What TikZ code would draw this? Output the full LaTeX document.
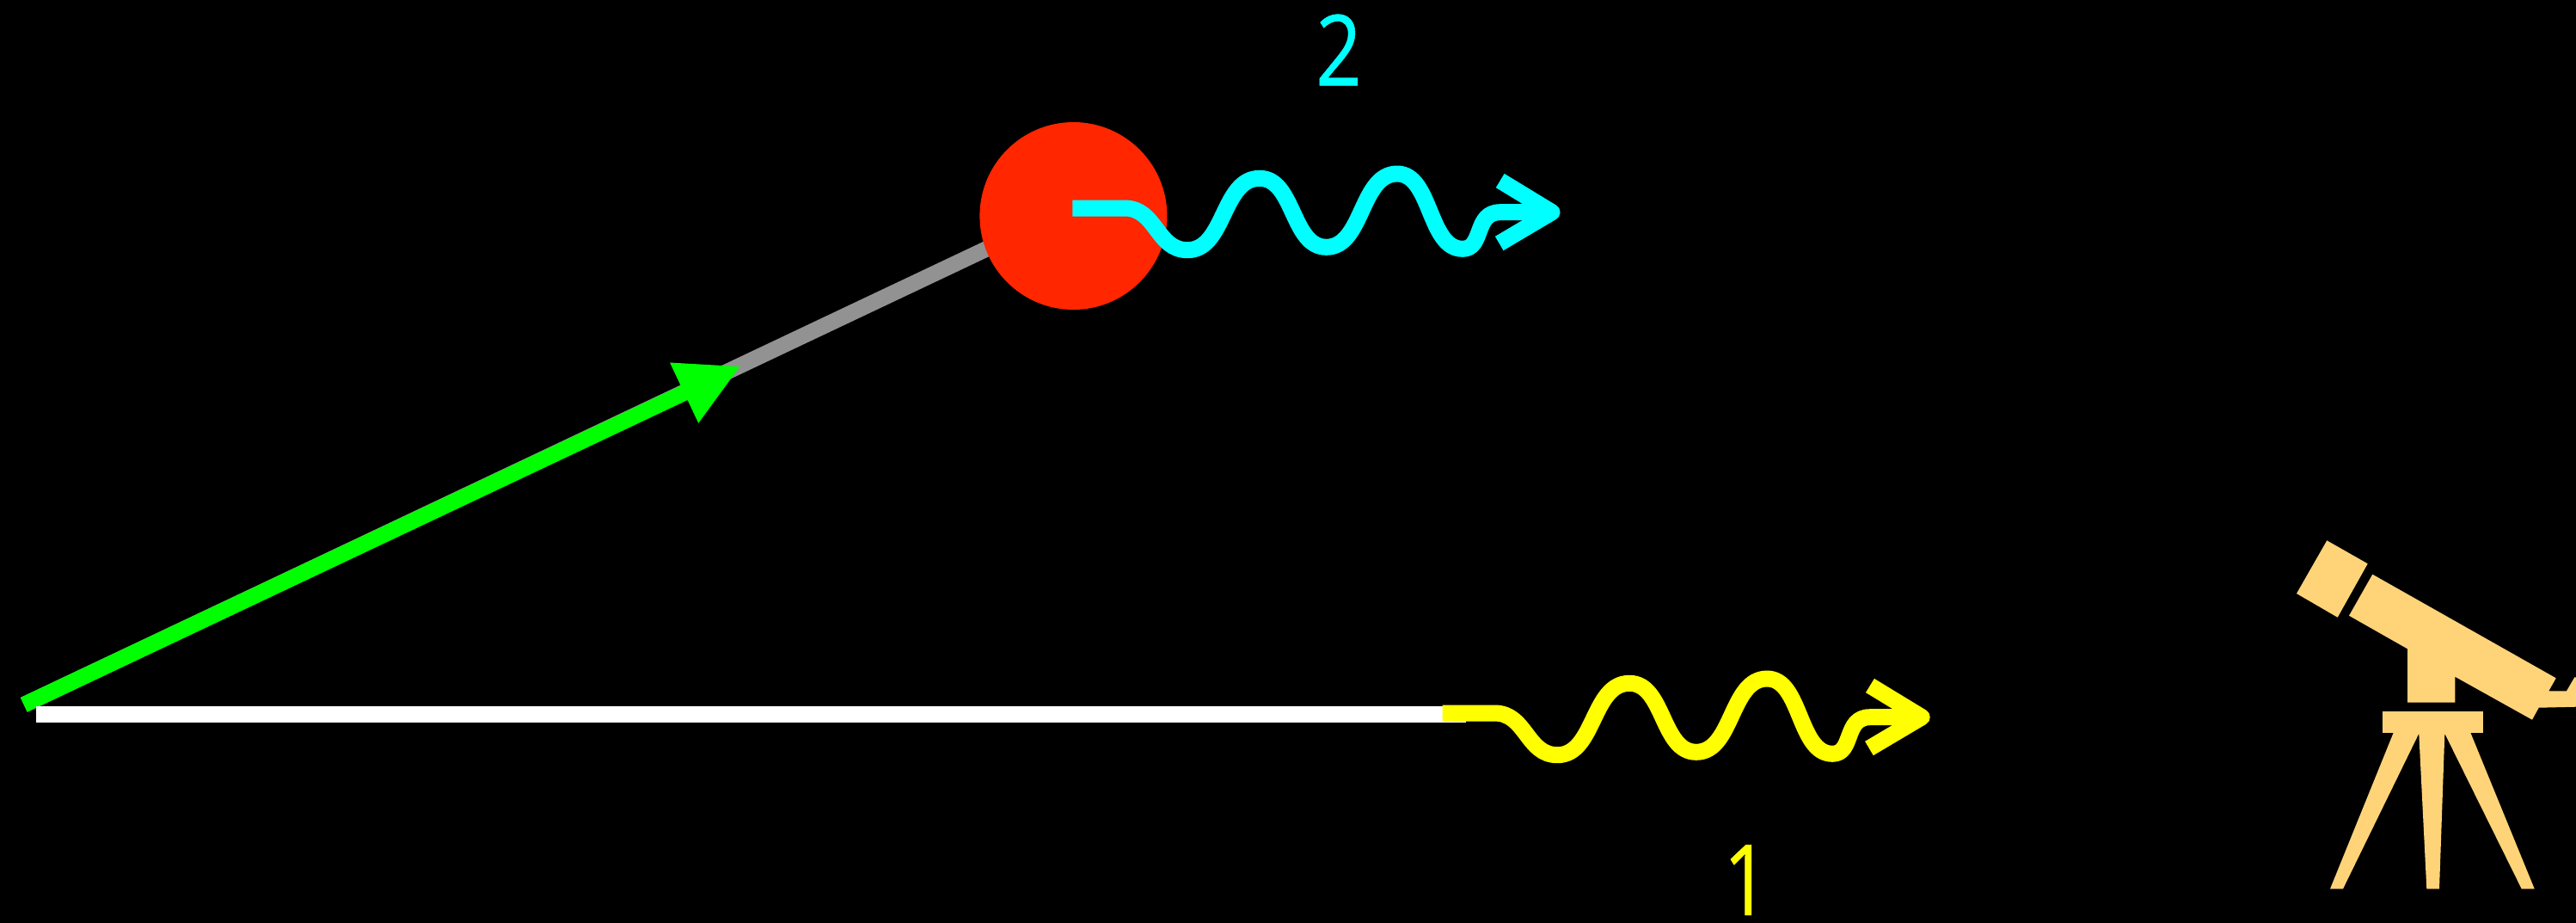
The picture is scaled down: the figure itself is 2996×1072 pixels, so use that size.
\documentclass[tikz,border=0pt]{standalone}
\usepackage{fontspec}
\newfontfamily\numfont[FakeBold=0.5]{Open Sans}
\usetikzlibrary{arrows.meta}
\definecolor{photred}{RGB}{255,38,0}
\definecolor{scopetan}{RGB}{255,212,121}
\definecolor{rayGray}{RGB}{146,146,146}
\definecolor{rayGreen}{RGB}{0,255,0}
\definecolor{photcyan}{RGB}{0,255,255}
\definecolor{photyellow}{RGB}{255,255,0}
\tikzset{
  ray/.style     = {line width=1.85mm},
  wave/.style    = {line width=1.9mm, line join=round},
  scopepart/.style = {fill=scopetan, draw=none},
  atom/.style    = {circle, fill=photred, minimum size=21.8mm, inner sep=0pt},
  numlabel/.style = {inner sep=0pt, xscale=0.82, font=\fontsize{32.5}{33}\selectfont\numfont},
}

\begin{document}
\begin{tikzpicture}[x=0.1mm, y=-0.1mm]
  \useasboundingbox (0,0) rectangle (2996,1072);
  \fill[black] (-10,-10) rectangle (3006,1082);
  \coordinate (src) at (27.8,819.3);
  \coordinate (tip) at (861.7,425.5);
  \coordinate (s2) at (1247.4,242);
  \coordinate (base0) at (42,830.7);
  \coordinate (base1) at (1704.5,830.7);
  % incoming rays
  \draw[ray, rayGray] (src)--(s2);
  \draw[ray, rayGreen, -{Triangle[length=7.3mm, width=7.2mm]}] (src)--(tip);
  \draw[ray, white] (base0)--(base1);
  \node[atom] (atom) at (1248.4,251) {};
  % outgoing photons
  \foreach \col/\dx/\dy in {photcyan/0/0, photyellow/430.2/587} {
    \begin{scope}[shift={(\dx,\dy)}]
      \draw[wave, \col] (1247.4,242)--(1308,242)
        .. controls (1345,242) and (1345,290.7) .. (1381.1,290.7)
        .. controls (1425,290.7) and (1421,207.3) .. (1465,207.3)
        .. controls (1505.5,207.3) and (1502,287.3) .. (1542.6,287.3)
        .. controls (1585.5,287.3) and (1582,202) .. (1625,202)
        .. controls (1665,202) and (1661,289.3) .. (1701,289.3)
        .. controls (1726,289.3) and (1714,246.7) .. (1744.7,246.7)
        --(1802,246.7);
      \draw[wave, \col] (1744.7,210)--(1805,246.7)--(1743.7,283);
    \end{scope}
  }
  \node[numlabel, photcyan] (two) at (1557,58) {2};
  \node[numlabel, photyellow] (one) at (2031,1023) {1};
  % telescope
  \fill[scopepart] (2706.3,628.3)--(2753.7,655.3)--(2718.7,717.7)--(2671,690)--cycle;
  \fill[scopepart] (2759.3,667.7)--(2972.7,788.3)--(2964.3,803.3)--(2985,803.3)--(2994.3,787.3)
    --(2996,787.3)--(2996,821.7)--(2952.7,822.7)--(2945,836.7)--(2855.3,786.7)--(2855.3,816.7)
    --(2800,816.7)--(2800,754.3)--(2732,715.7)--cycle;
  \fill[scopepart] (2771,827.3) rectangle (2888,851.7);
  \fill[scopepart] (2784,851)--(2710,1033.3)--(2725,1033.3)--(2813.3,852.7)--(2822.3,1033.3)
    --(2837,1033.3)--(2843.3,852.7)--(2932.7,1033.3)--(2947.7,1033.3)--(2873,851)--cycle;
\end{tikzpicture}
\end{document}
